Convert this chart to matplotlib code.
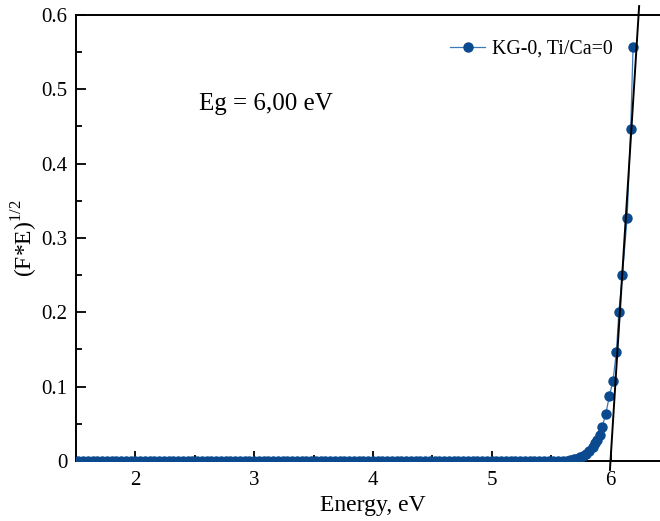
import matplotlib.pyplot as plt
from matplotlib.ticker import MultipleLocator

# flat part of the curve (values read as zero)
base_energy = [1.52, 1.56, 1.60, 1.64, 1.68, 1.72, 1.76, 1.80, 1.84, 1.88,
               1.92, 1.96, 2.00, 2.04, 2.08, 2.12, 2.16, 2.20, 2.24, 2.28,
               2.32, 2.36, 2.40, 2.44, 2.48, 2.52, 2.56, 2.60, 2.64, 2.68,
               2.72, 2.76, 2.80, 2.84, 2.88, 2.92, 2.96, 3.00, 3.04, 3.08,
               3.12, 3.16, 3.20, 3.24, 3.28, 3.32, 3.36, 3.40, 3.44, 3.48,
               3.52, 3.56, 3.60, 3.64, 3.68, 3.72, 3.76, 3.80, 3.84, 3.88,
               3.92, 3.96, 4.00, 4.04, 4.08, 4.12, 4.16, 4.20, 4.24, 4.28,
               4.32, 4.36, 4.40, 4.44, 4.48, 4.52, 4.56, 4.60, 4.64, 4.68,
               4.72, 4.76, 4.80, 4.84, 4.88, 4.92, 4.96, 5.00, 5.04, 5.08,
               5.12, 5.16, 5.20, 5.24, 5.28, 5.32, 5.36, 5.40, 5.44, 5.48,
               5.52, 5.56]
base_value = [0.0] * len(base_energy)

# absorption edge
edge_energy = [5.60, 5.63, 5.66, 5.69, 5.71, 5.74, 5.77, 5.79, 5.82, 5.85,
               5.87, 5.89, 5.91, 5.93, 5.96, 5.99, 6.02, 6.05, 6.07, 6.10,
               6.14, 6.17, 6.19]
edge_value = [0.0, 0.0005, 0.001, 0.002, 0.003, 0.005, 0.007, 0.010, 0.014, 0.019,
              0.024, 0.028, 0.035, 0.046, 0.063, 0.087, 0.107, 0.147, 0.200, 0.250,
              0.327, 0.447, 0.557]

energy = base_energy + edge_energy
value = base_value + edge_value

# Tauc fit line
eg = 6.00
slope = 2.54
fit_y = [-0.012, 0.612]
fit_x = [eg + y / slope for y in fit_y]

plt.rcParams['font.family'] = ['Liberation Serif', 'DejaVu Serif']
plt.rcParams['mathtext.fontset'] = 'custom'
plt.rcParams['mathtext.rm'] = 'Liberation Serif'

fig = plt.figure(figsize=(6.6, 5.21), dpi=100)
ax = fig.add_axes([0.115, 0.1152, 0.9, 0.856])

ax.plot(energy, value, marker='o', linestyle='-', color='#3f78b8', lw=0.9,
        markersize=6.5, markerfacecolor='#0b4a8f', markeredgecolor='#0b4a8f',
        label='KG-0, Ti/Ca=0', zorder=3)
ax.plot(fit_x, fit_y, color='black', lw=1.4, clip_on=False, zorder=4)

ax.set_xlim(1.5, 6.5)
ax.set_ylim(0, 0.6)
ax.xaxis.set_major_locator(MultipleLocator(1))
ax.xaxis.set_minor_locator(MultipleLocator(0.5))
ax.yaxis.set_major_locator(MultipleLocator(0.1))
ax.yaxis.set_minor_locator(MultipleLocator(0.05))
ax.yaxis.set_major_formatter(plt.FuncFormatter(lambda v, p: '0' if v == 0 else f'{v:.1f}'))
ax.tick_params(which='both', direction='in', labelsize=15, width=1.3)
ax.tick_params(which='major', length=7)
ax.tick_params(which='minor', length=4)
ax.tick_params(axis='x', pad=7)
ax.tick_params(axis='y', pad=6)
for s in ax.spines.values():
    s.set_linewidth(1.4)

ax.set_xlabel('Energy, eV', fontsize=17, labelpad=4)
ax.set_ylabel(r'(F*E)$^{\mathrm{1/2}}$', fontsize=17, labelpad=1)
ax.text(2.54, 0.472, 'Eg = 6,00 eV', fontsize=18)

ax.legend(loc='upper left', bbox_to_anchor=(0.6, 0.985), frameon=False, fontsize=14.3,
          handlelength=1.76, handletextpad=0.35)

fig.savefig('out.png', dpi=100)
